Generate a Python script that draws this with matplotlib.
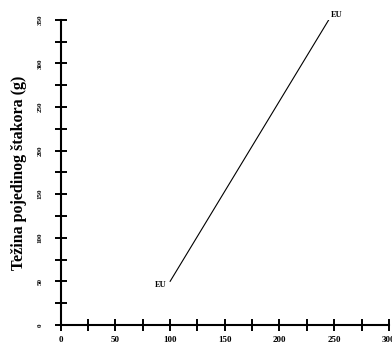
import matplotlib
matplotlib.use('Agg')
import matplotlib.pyplot as plt
from matplotlib.ticker import MultipleLocator

# data
line_x = [100, 245]
line_y = [50, 350]
point_labels = ['EU', 'EU']

x_ticks = [0, 50, 100, 150, 200, 250, 300]
y_ticks = [0, 50, 100, 150, 200, 250, 300, 350]

serif = ['Liberation Serif', 'DejaVu Serif']

fig = plt.figure(figsize=(3.92, 3.49), dpi=100)
ax = fig.add_axes([0.155, 0.069, 0.837, 0.874])

ax.plot(line_x, line_y, color='black', linewidth=0.8)

# EU labels at both ends of the line
ax.text(line_x[0] - 3, line_y[0] - 4, point_labels[0], ha='right', va='center',
        fontsize=6, fontweight='bold', family=serif)
ax.text(line_x[1] + 2, line_y[1] + 6, point_labels[1], ha='left', va='center',
        fontsize=6, fontweight='bold', family=serif)

ax.set_xlim(0, 300)
ax.set_ylim(0, 350)

for side in ['top', 'right']:
    ax.spines[side].set_visible(False)
for side in ['left', 'bottom']:
    ax.spines[side].set_linewidth(1.5)

ax.set_xticks(x_ticks)
ax.set_yticks(y_ticks)
ax.xaxis.set_minor_locator(MultipleLocator(25))
ax.yaxis.set_minor_locator(MultipleLocator(25))
ax.tick_params(which='both', direction='inout', length=8, width=1.4, color='black')
ax.tick_params(axis='x', pad=4)
ax.tick_params(axis='y', pad=9)

for lab in ax.get_xticklabels():
    lab.set_fontsize(6.5)
    lab.set_fontweight('bold')
    lab.set_family(serif)
for lab in ax.get_yticklabels():
    lab.set_fontsize(5)
    lab.set_fontweight('bold')
    lab.set_family(serif)
    lab.set_rotation(90)
    lab.set_va('center')

ax.set_ylabel('Težina pojedinog štakora (g)', fontsize=11.5, fontweight='bold',
              family=serif, labelpad=8)

fig.savefig('out.png', dpi=100)
